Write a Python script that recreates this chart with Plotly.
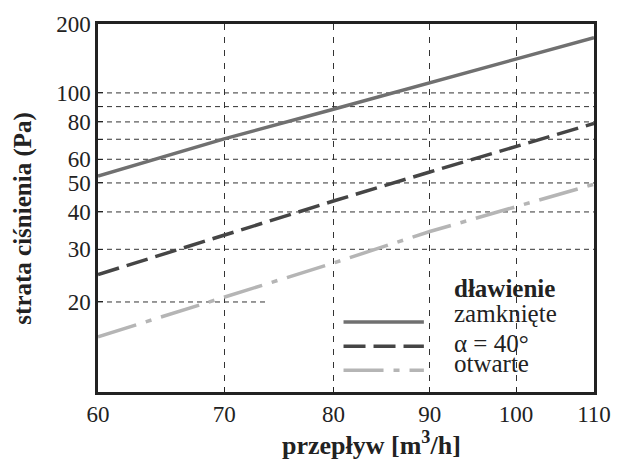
import math
import plotly.graph_objects as go

# ---- data ----
przeplyw = [60, 70, 80, 90, 100, 110]
zamkniete = [52.7, 70.2, 88.2, 108, 130, 153]
alfa40 = [24.7, 33.5, 43.5, 54.4, 66.3, 79.1]
otwarte = [15.3, 20.8, 27.0, 34.4, 41.6, 49.5]

x_ticks = [60, 70, 80, 90, 100, 110]
y_tickvals = [20, 30, 40, 50, 60, 80, 100, 170]
y_ticktext = ["20", "30", "40", "50", "60", "80", "100", "200"]
y_minor = [70, 90]
y_grid_full = [30, 40, 50, 60, 70, 80, 90, 100]
y_grid_partial = 20
partial_end = 73.7
y_top = 170

series_names = ["zamknięte", "α = 40°", "otwarte"]
series_colors = ["#707070", "#454545", "#b5b5b5"]
series_dash = ["solid", "22px,8px", "40px,10px,6px,10px"]

FONT = "Liberation Serif"
INK = "#222222"

fig = go.Figure()

# horizontal dashed gridlines
for g in y_grid_full:
    fig.add_trace(go.Scatter(x=[x_ticks[0], x_ticks[-1]], y=[g, g], mode="lines",
                             line=dict(color="#333333", width=1, dash="5px,4px"),
                             hoverinfo="skip", showlegend=False))
fig.add_trace(go.Scatter(x=[x_ticks[0], partial_end], y=[y_grid_partial, y_grid_partial], mode="lines",
                         line=dict(color="#333333", width=1, dash="5px,4px"),
                         hoverinfo="skip", showlegend=False))

for name, ys, c, d in zip(series_names, [zamkniete, alfa40, otwarte], series_colors, series_dash):
    fig.add_trace(go.Scatter(x=przeplyw, y=ys, mode="lines", name=name,
                             line=dict(color=c, width=3.5, dash=d), showlegend=False))

# manual legend
leg_line_y = [0.190, 0.124, 0.059]
leg_text_y = [0.212, 0.133, 0.078]
for i, name in enumerate(series_names):
    fig.add_shape(type="line", xref="paper", yref="paper", x0=0.495, x1=0.657,
                  y0=leg_line_y[i], y1=leg_line_y[i],
                  line=dict(color=series_colors[i], width=3.5, dash=series_dash[i]))
    fig.add_annotation(xref="paper", yref="paper", x=0.714, y=leg_text_y[i], text=name,
                       showarrow=False, xanchor="left", yanchor="middle",
                       font=dict(family=FONT, size=25, color=INK))
fig.add_annotation(xref="paper", yref="paper", x=0.714, y=0.282, text="<b>dławienie</b>",
                   showarrow=False, xanchor="left", yanchor="middle",
                   font=dict(family=FONT, size=25, color=INK))

# axis titles
fig.add_annotation(xref="paper", yref="paper", x=-0.152, y=0.47, text="<b>strata ciśnienia (Pa)</b>",
                   textangle=-90, showarrow=False, xanchor="center", yanchor="middle",
                   font=dict(family=FONT, size=25, color=INK))
fig.add_annotation(xref="paper", yref="paper", x=0.552, y=-0.14, text="<b>przepływ [m<sup>3</sup>/h]</b>",
                   showarrow=False, xanchor="center", yanchor="middle",
                   font=dict(family=FONT, size=26, color=INK))

fig.update_layout(
    width=623, height=464,
    margin=dict(l=98, r=23, t=21, b=72),
    paper_bgcolor="white", plot_bgcolor="white",
    font=dict(family=FONT, size=23, color=INK),
    xaxis=dict(type="log", range=[math.log10(x_ticks[0]), math.log10(x_ticks[-1])],
               tickvals=x_ticks, ticktext=[str(v) for v in x_ticks],
               showgrid=True, gridcolor="#333333", gridwidth=1, griddash="6px,7px",
               showline=True, linecolor=INK, linewidth=2.5, mirror=True,
               ticks="inside", ticklen=5, tickcolor=INK, zeroline=False,
               tickfont=dict(family=FONT, size=23, color=INK)),
    yaxis=dict(type="log", range=[1, math.log10(y_top)],
               tickvals=y_tickvals, ticktext=y_ticktext,
               showgrid=False,
               minor=dict(tickvals=y_minor, ticks="inside", ticklen=5, tickcolor=INK, showgrid=False),
               showline=True, linecolor=INK, linewidth=2.5, mirror=True,
               ticks="inside", ticklen=5, tickcolor=INK, zeroline=False,
               tickfont=dict(family=FONT, size=23, color=INK)),
)

fig.write_html("out.html")
